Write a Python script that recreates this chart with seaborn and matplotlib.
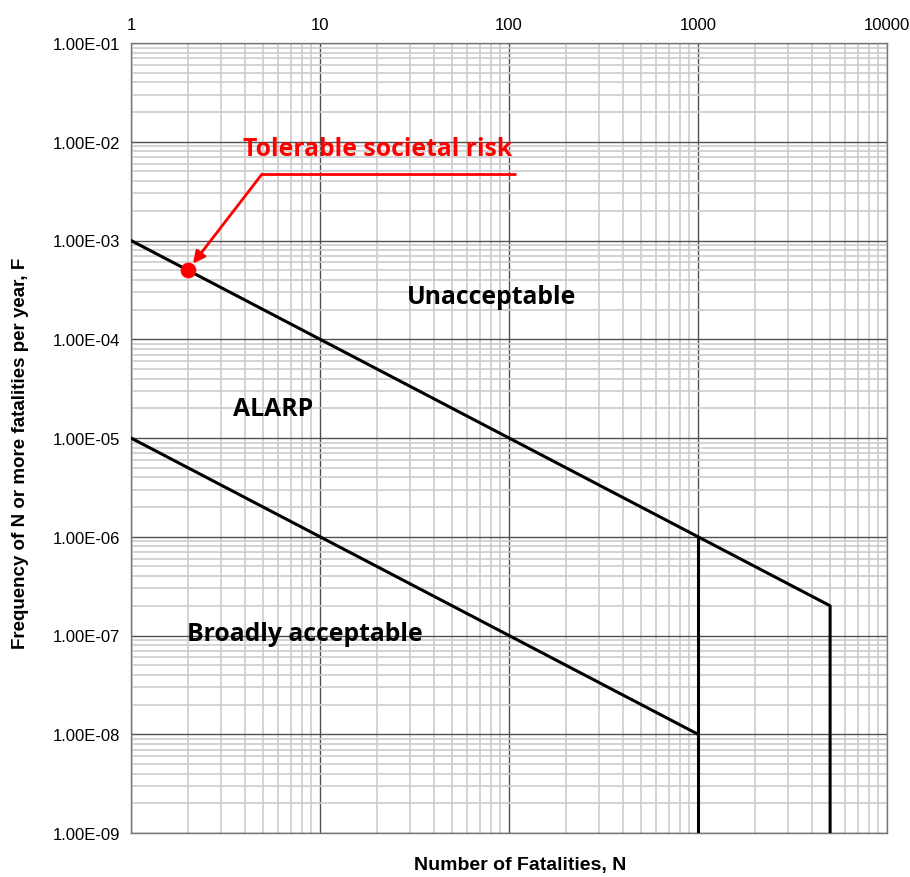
import matplotlib
matplotlib.use("Agg")
import matplotlib.pyplot as plt
import matplotlib.ticker as mticker
import seaborn as sns
import pandas as pd
import numpy as np

# Data
upper_N = [1, 1000, 5000, 5000]
upper_F = [1e-3, 1e-6, 2e-7, 1e-9]
cutoff_N = [1000, 1000]
cutoff_F = [1e-6, 1e-9]
lower_N = [1, 1000]
lower_F = [1e-5, 1e-8]
point_N = [2]
point_F = [5e-4]
x_ticks = [1, 10, 100, 1000, 10000]
x_ticklabels = ["1", "10", "100", "1000", "10000"]
y_ticks = [1e-1, 1e-2, 1e-3, 1e-4, 1e-5, 1e-6, 1e-7, 1e-8, 1e-9]
y_ticklabels = ["1.00E-01", "1.00E-02", "1.00E-03", "1.00E-04", "1.00E-05",
                "1.00E-06", "1.00E-07", "1.00E-08", "1.00E-09"]

sns.set_style("white")
plt.rcParams['font.family'] = ['Liberation Sans', 'DejaVu Sans']
plt.rcParams['text.color'] = 'black'
plt.rcParams['xtick.color'] = 'black'
plt.rcParams['ytick.color'] = 'black'
plt.rcParams['axes.labelcolor'] = 'black'

fig = plt.figure(figsize=(9.10, 8.78), dpi=100)
ax = fig.add_axes([131/910, 1-834/878, (887-131)/910, (834-44)/878])

ax.set_xscale('log')
ax.set_yscale('log')
ax.set_xlim(1, 10000)
ax.set_ylim(1e-9, 1e-1)

df_up = pd.DataFrame({'N': upper_N, 'F': upper_F})
df_cut = pd.DataFrame({'N': cutoff_N, 'F': cutoff_F})
df_low = pd.DataFrame({'N': lower_N, 'F': lower_F})
for d in (df_up, df_cut, df_low):
    sns.lineplot(data=d, x='N', y='F', sort=False, estimator=None,
                 color='black', lw=2.2, ax=ax, zorder=5)

sns.scatterplot(x=point_N, y=point_F, color='red', s=110, edgecolor='red',
                ax=ax, zorder=6)

# grid
ax.xaxis.set_major_locator(mticker.FixedLocator(x_ticks))
ax.xaxis.set_minor_locator(mticker.LogLocator(base=10, subs=np.arange(2, 10)))
ax.yaxis.set_major_locator(mticker.FixedLocator(y_ticks))
ax.yaxis.set_minor_locator(mticker.LogLocator(base=10, subs=np.arange(2, 10), numticks=20))
ax.grid(True, which='minor', color='#cccccc', lw=1.2)
ax.grid(True, which='major', color='#505050', lw=1.0)
ax.set_axisbelow(True)

ax.xaxis.tick_top()
ax.set_xticks(x_ticks)
ax.set_xticklabels(x_ticklabels, fontsize=12)
ax.set_yticks(y_ticks)
ax.set_yticklabels(y_ticklabels, fontsize=12)
ax.xaxis.set_minor_formatter(mticker.NullFormatter())
ax.yaxis.set_minor_formatter(mticker.NullFormatter())
ax.tick_params(axis='x', which='both', length=0, pad=8)
ax.tick_params(axis='y', which='major', length=5, width=1, color='#555555', pad=3)
ax.tick_params(axis='y', which='minor', length=0)

for s in ax.spines.values():
    s.set_color('#777777')
    s.set_linewidth(1.0)

ax.set_xlabel("")
ax.set_ylabel("")
fig.text(520/910, 1-866/878, "Number of Fatalities, N", ha='center', va='center',
         fontsize=14, fontweight='bold')
fig.text(21/910, 1-453/878, "Frequency of N or more fatalities per year, F",
         ha='center', va='center', rotation=90, fontsize=13.5, fontweight='bold')

lab_font = ['Open Sans', 'DejaVu Sans']
fs = 17.8
ax.text(10**((378-131)/189), 10**(-1-(150-44)/98.75), "Tolerable societal risk",
        color='red', fontsize=fs, fontweight='bold', ha='center', va='center',
        family=lab_font)
ax.text(10**((492-131)/189), 10**(-1-(298-44)/98.75), "Unacceptable",
        fontsize=fs, fontweight='bold', ha='center', va='center', family=lab_font)
ax.text(10**((273-131)/189), 10**(-1-(410-44)/98.75), "ALARP",
        fontsize=fs, fontweight='bold', ha='center', va='center', family=lab_font)
ax.text(10**((305-131)/189), 10**(-1-(635-44)/98.75), "Broadly acceptable",
        fontsize=fs, fontweight='bold', ha='center', va='center', family=lab_font)

# annotation callout
ax.plot([108, 4.93], [4.7e-3, 4.7e-3], color='red', lw=2, zorder=7)
ax.annotate("", xy=(point_N[0], point_F[0]), xytext=(4.93, 4.7e-3),
            arrowprops=dict(arrowstyle='-|>', color='red', lw=2,
                            shrinkA=0, shrinkB=6, mutation_scale=18),
            zorder=7)

fig.savefig("out.png", dpi=100)
